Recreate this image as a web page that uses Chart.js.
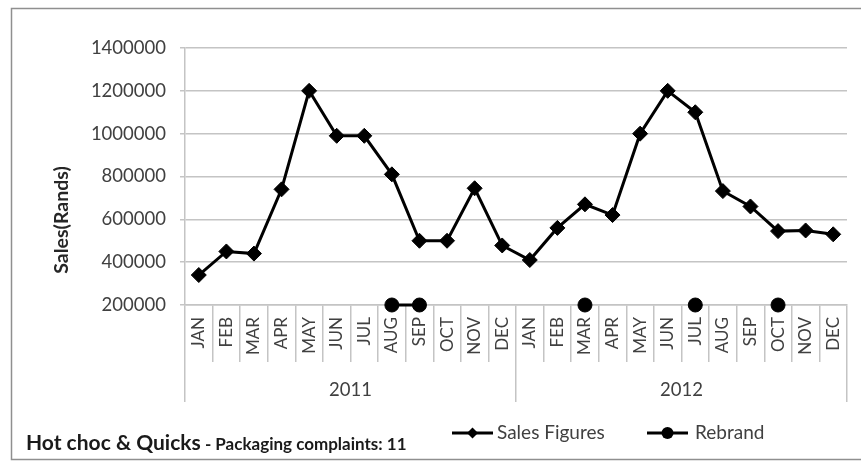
<!DOCTYPE html>
<html><head><meta charset="utf-8">
<script src="https://cdn.jsdelivr.net/npm/chart.js@4.4.1/dist/chart.umd.min.js"></script>
<style>html,body{margin:0;padding:0;background:#fff;} #wrap{position:relative;width:861px;height:462px;}</style>
</head><body><div id="wrap"><canvas id="c" width="861" height="462"></canvas></div>
<script>
const months = ['JAN','FEB','MAR','APR','MAY','JUN','JUL','AUG','SEP','OCT','NOV','DEC','JAN','FEB','MAR','APR','MAY','JUN','JUL','AUG','SEP','OCT','NOV','DEC'];
const years = ['2011','2012'];
const salesFigures = [340000,450000,440000,740000,1200000,990000,990000,810000,500000,500000,745000,478000,
                      410000,560000,670000,620000,1000000,1200000,1100000,732000,660000,545000,548000,530000];
const rebrand = [null,null,null,null,null,null,null,200000,200000,null,null,null,
                 null,null,200000,null,null,null,200000,null,null,200000,null,null];
const yTicks = [200000,400000,600000,800000,1000000,1200000,1400000];
const seriesNames = ['Sales Figures','Rebrand'];
const yTitle = 'Sales(Rands)';
const titleMain = 'Hot choc & Quicks';
const titleSub = ' - Packaging complaints: 11';

const FONT = 'Lato';
const TXT = '#404040';
const GRID = '#c4c4c4';

const decor = {
  id: 'decor',
  beforeDraw(chart) {
    const ctx = chart.ctx;
    ctx.save(); ctx.fillStyle = '#fff'; ctx.fillRect(0, 0, chart.width, chart.height); ctx.restore();
  },
  afterDraw(chart) {
    const ctx = chart.ctx;
    ctx.save();
    // outer border
    ctx.strokeStyle = '#8f8f8f'; ctx.lineWidth = 1.5;
    ctx.strokeRect(11.5, 8.5, 870, 451);
    // y title
    ctx.save();
    ctx.translate(62, 220); ctx.rotate(-Math.PI / 2);
    ctx.font = 'bold 19.5px ' + FONT; ctx.fillStyle = '#262626';
    ctx.textAlign = 'center'; ctx.textBaseline = 'middle';
    ctx.fillText(yTitle, 0, 0);
    ctx.restore();
    // bottom-left title
    ctx.fillStyle = '#1a1a1a'; ctx.textBaseline = 'alphabetic'; ctx.textAlign = 'left';
    ctx.font = 'bold 21px ' + FONT;
    ctx.fillText(titleMain, 26, 450);
    const w = ctx.measureText(titleMain).width;
    ctx.font = 'bold 17px ' + FONT;
    ctx.fillText(titleSub, 26 + w, 450);
    // legend
    const ly = 433;
    const items = [{x0: 452, x1: 493, tx: 497, style: 'diamond'}, {x0: 647, x1: 688, tx: 695, style: 'circle'}];
    items.forEach((it, i) => {
      const ds = chart.data.datasets[i];
      ctx.strokeStyle = ds.borderColor; ctx.lineWidth = 3;
      ctx.beginPath(); ctx.moveTo(it.x0, ly); ctx.lineTo(it.x1, ly); ctx.stroke();
      const cx = (it.x0 + it.x1) / 2;
      ctx.fillStyle = ds.borderColor;
      ctx.beginPath();
      if (it.style === 'diamond') {
        ctx.moveTo(cx, ly - 5.5); ctx.lineTo(cx + 5.5, ly); ctx.lineTo(cx, ly + 5.5); ctx.lineTo(cx - 5.5, ly); ctx.closePath();
      } else {
        ctx.arc(cx, ly, 6, 0, Math.PI * 2);
      }
      ctx.fill();
      ctx.fillStyle = TXT; ctx.font = '19px ' + FONT; ctx.textBaseline = 'middle';
      ctx.fillText(ds.label, it.tx, ly);
    });
    ctx.restore();
  }
};

new Chart(document.getElementById('c'), {
  type: 'line',
  data: {
    labels: months,
    datasets: [
      { label: seriesNames[0], data: salesFigures, borderColor: '#000', backgroundColor: '#000', borderWidth: 3,
        pointStyle: 'rectRot', pointRadius: 7.5, pointBorderWidth: 1, pointBackgroundColor: '#000', pointBorderColor: '#000',
        tension: 0, clip: false },
      { label: seriesNames[1], data: rebrand, borderColor: '#000', backgroundColor: '#000', borderWidth: 3,
        pointStyle: 'circle', pointRadius: 7, pointBorderWidth: 1, pointBackgroundColor: '#000', pointBorderColor: '#000',
        spanGaps: false, tension: 0, clip: false }
    ]
  },
  options: {
    responsive: false, animation: false,
    layout: { padding: { left: 0, top: 48, right: 14, bottom: 60 } },
    plugins: { legend: { display: false }, tooltip: { enabled: false } },
    scales: {
      x: {
        type: 'category', position: 'bottom', offset: true,
        grid: { display: true, drawOnChartArea: false, drawTicks: true, tickLength: 57, color: GRID, lineWidth: 1.5, offset: true },
        border: { display: true, color: GRID, width: 1.5 },
        ticks: { autoSkip: false, minRotation: 90, maxRotation: 90, padding: -45, color: TXT, font: { family: FONT, size: 17 } },
        afterFit(s) { s.height = 57; }
      },
      x2: {
        type: 'category', labels: years, position: 'bottom', offset: true,
        grid: { display: true, drawOnChartArea: false, drawTicks: true, tickLength: 40, color: GRID, lineWidth: 1.5, offset: true },
        border: { display: false },
        ticks: { autoSkip: false, maxRotation: 0, padding: -23, color: TXT, font: { family: FONT, size: 18.5 } },
        afterFit(s) { s.height = 40; }
      },
      y: {
        min: yTicks[0], max: yTicks[yTicks.length - 1],
        afterBuildTicks(s) { s.ticks = yTicks.map(v => ({ value: v })); },
        ticks: { padding: 14, color: TXT, font: { family: FONT, size: 18.5 }, callback: v => String(v) },
        grid: { color: GRID, lineWidth: 1.5, tickLength: 5 },
        border: { color: GRID, width: 1.5 },
        afterFit(s) { s.width = 185; }
      }
    }
  },
  plugins: [decor]
});
</script></body></html>
